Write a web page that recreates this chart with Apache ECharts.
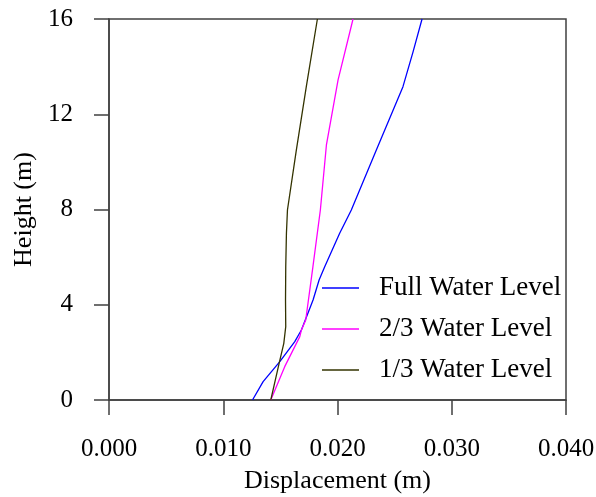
<!DOCTYPE html>
<html>
<head>
<meta charset="utf-8">
<script src="https://cdn.jsdelivr.net/npm/echarts@6/dist/echarts.min.js"></script>
<style>
html,body{margin:0;padding:0;background:#fff;}
#chart{width:596px;height:497px;}
</style>
</head>
<body>
<div id="chart"></div>
<script>
// Series names
const seriesNames = ['Full Water Level', '2/3 Water Level', '1/3 Water Level'];
// Axis ticks
const xTicks = [0.000, 0.010, 0.020, 0.030, 0.040];
const yTicks = [0, 4, 8, 12, 16];

// Full water level: [displacement (m), height (m)]
const fullLevel = [
  [0.01256, 0], [0.01349, 0.77], [0.01495, 1.61], [0.01626, 2.45], [0.01684, 2.94],
  [0.01786, 4.2], [0.01839, 5.04], [0.01888, 5.6], [0.02019, 7.0], [0.02121, 7.98],
  [0.02340, 10.5], [0.02573, 13.16], [0.02660, 14.6], [0.02740, 16]
];
// 2/3 water level
const twoThirdLevel = [
  [0.01416, 0], [0.01538, 1.4], [0.01670, 2.66], [0.01684, 2.94], [0.01722, 3.36],
  [0.01785, 5.6], [0.01850, 7.98], [0.01903, 10.71], [0.02005, 13.44], [0.02136, 16]
];
// 1/3 water level
const oneThirdLevel = [
  [0.01416, 0], [0.01454, 0.8], [0.01489, 1.54], [0.01530, 2.38], [0.01547, 3.08],
  [0.01545, 4.2], [0.01547, 5.6], [0.01553, 7.0], [0.01562, 7.98], [0.01640, 10.5],
  [0.01727, 13.16], [0.01824, 16]
];

const colors = ['#0000ff', '#ff00ff', '#333300'];
const font = 'Liberation Serif';
const axisColor = '#404040';

const chart = echarts.init(document.getElementById('chart'), null, {renderer: 'canvas'});
const dataSets = [fullLevel, twoThirdLevel, oneThirdLevel];

chart.setOption({
  animation: false,
  backgroundColor: '#ffffff',
  grid: {
    left: 109, right: 30, top: 19, bottom: 97,
    outerBoundsMode: 'none', containLabel: false,
    show: true, borderColor: axisColor, borderWidth: 1.5, backgroundColor: 'transparent'
  },
  legend: {
    orient: 'vertical',
    left: 317, top: 268,
    icon: 'rect',
    itemWidth: 37, itemHeight: 1.5, itemGap: 11,
    data: seriesNames,
    textStyle: {fontFamily: font, fontSize: 27, color: '#000', lineHeight: 30, padding: [0, 0, 0, 15]}
  },
  xAxis: {
    type: 'value',
    min: xTicks[0], max: xTicks[xTicks.length - 1], interval: 0.01,
    name: 'Displacement (m)', nameLocation: 'middle', nameGap: 68,
    nameTextStyle: {fontFamily: font, fontSize: 26, color: '#000'},
    axisLine: {show: true, lineStyle: {color: axisColor, width: 1.5}},
    axisTick: {show: true, inside: false, length: 15, lineStyle: {color: axisColor, width: 1.5}},
    axisLabel: {fontFamily: font, fontSize: 25, color: '#000', margin: 37,
      formatter: v => v.toFixed(3)},
    splitLine: {show: false}
  },
  yAxis: {
    type: 'value',
    min: yTicks[0], max: yTicks[yTicks.length - 1], interval: 4,
    name: 'Height (m)', nameLocation: 'middle', nameGap: 72, nameRotate: 90,
    nameTextStyle: {fontFamily: font, fontSize: 26, color: '#000'},
    axisLine: {show: true, lineStyle: {color: axisColor, width: 1.5}},
    axisTick: {show: true, inside: false, length: 15, lineStyle: {color: axisColor, width: 1.5}},
    axisLabel: {fontFamily: font, fontSize: 25, color: '#000', margin: 36},
    splitLine: {show: false}
  },
  series: seriesNames.map((name, i) => ({
    name: name,
    type: 'line',
    data: dataSets[i],
    showSymbol: false,
    symbol: 'none',
    smooth: false,
    color: colors[i],
    lineStyle: {color: colors[i], width: 1.3}
  }))
});
</script>
</body>
</html>
